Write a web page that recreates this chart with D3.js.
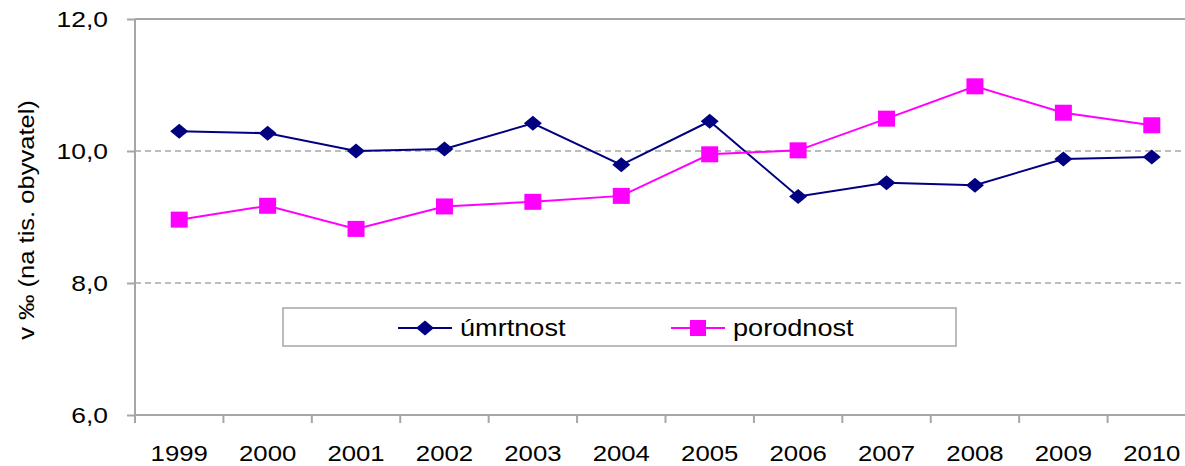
<!DOCTYPE html>
<html>
<head>
<meta charset="utf-8">
<script src="https://cdn.jsdelivr.net/npm/d3@7"></script>
<style>
  body { margin: 0; background: #fff; }
  text { font-family: "Liberation Sans", Arial, sans-serif; }
</style>
</head>
<body>
<div id="chart"></div>
<script>
// data
var years = ["1999","2000","2001","2002","2003","2004","2005","2006","2007","2008","2009","2010"];
var umrtnost = [10.3, 10.27, 10.0, 10.03, 10.42, 9.79, 10.45, 9.31, 9.52, 9.48, 9.88, 9.91];
var porodnost = [8.96, 9.17, 8.82, 9.16, 9.23, 9.32, 9.95, 10.01, 10.49, 10.98, 10.58, 10.39];
var yTicks = [6, 8, 10, 12];
var seriesNames = ["úmrtnost", "porodnost"];

var width = 1185, height = 466;
var margin = {top: 19, left: 135, bottom: 51, right: -11};
var w = width - margin.left - margin.right,
    h = height - margin.top - margin.bottom;

var svg = d3.select("#chart").append("svg")
    .attr("width", width)
    .attr("height", height)
  .append("g")
    .attr("transform", "translate(" + margin.left + "," + margin.top + ")");

var x = d3.scaleBand().domain(years).range([0, w]).padding(0);
var y = d3.scaleLinear().domain([6, 12]).range([h, 0]);
var cx = function(d) { return x(d) + x.bandwidth() / 2; };

var grey = "#a6a6a6";

// the original text is drawn wider than Arial, stretch it a bit
function stretch(sel, k) {
  sel.each(function() {
    var len = this.getComputedTextLength();
    d3.select(this).attr("textLength", len * k).attr("lengthAdjust", "spacingAndGlyphs");
  });
}

// gridlines
svg.selectAll(".grid")
  .data(yTicks.filter(function(d) { return d > 6; }))
  .enter().append("line")
    .attr("x1", 0).attr("x2", w)
    .attr("y1", function(d) { return y(d); })
    .attr("y2", function(d) { return y(d); })
    .attr("stroke", grey)
    .attr("stroke-width", function(d) { return d == 12 ? 2 : 1.5; })
    .attr("stroke-dasharray", function(d) { return d == 12 ? null : "6,4"; });

// Y axis
var yAxis = svg.append("g")
  .call(d3.axisLeft(y).tickValues(yTicks).tickSize(8).tickPadding(19)
    .tickFormat(function(d) { return d3.format(".1f")(d).replace(".", ","); }));
yAxis.select(".domain").attr("stroke", grey).attr("stroke-width", 2).attr("d", "M0," + h + "V0");
yAxis.selectAll(".tick line").attr("stroke", grey).attr("stroke-width", 2);
yAxis.selectAll(".tick text").attr("fill", "#000").style("font-size", "22px").call(stretch, 1.2);

// X axis
var xAxis = svg.append("g")
  .attr("transform", "translate(0," + h + ")")
  .call(d3.axisBottom(x).tickSize(0).tickPadding(30));
xAxis.select(".domain").attr("stroke", grey).attr("stroke-width", 2).attr("d", "M0,0H" + w);
xAxis.selectAll(".tick text").attr("fill", "#000").style("font-size", "22px").call(stretch, 1.17);
xAxis.selectAll(".sep")
  .data(years)
  .enter().append("line")
    .attr("x1", function(d) { return x(d); })
    .attr("x2", function(d) { return x(d); })
    .attr("y1", 0).attr("y2", 8)
    .attr("stroke", grey).attr("stroke-width", 2);

// Y label
svg.append("text")
  .attr("transform", "translate(" + (34 - margin.left) + "," + (220 - margin.top) + ") rotate(-90)")
  .attr("text-anchor", "middle")
  .style("font-size", "22px")
  .text("v ‰ (na tis. obyvatel)")
  .call(stretch, 1.16);

// lines
var line = d3.line()
  .x(function(d, i) { return cx(years[i]); })
  .y(function(d) { return y(d); });

var diamond = function(px, py) {
  return "M" + px + "," + (py - 7.5) + "L" + (px + 9) + "," + py + "L" + px + "," + (py + 7.5) + "L" + (px - 9) + "," + py + "Z";
};

svg.append("path").datum(umrtnost)
  .attr("fill", "none").attr("stroke", "#000080").attr("stroke-width", 2)
  .attr("d", line);
svg.append("path").datum(porodnost)
  .attr("fill", "none").attr("stroke", "#ff00ff").attr("stroke-width", 2)
  .attr("d", line);

svg.selectAll(".dia")
  .data(umrtnost)
  .enter().append("path")
    .attr("d", function(d, i) { return diamond(cx(years[i]), y(d)); })
    .attr("fill", "#000080");

svg.selectAll(".sq")
  .data(porodnost)
  .enter().append("rect")
    .attr("x", function(d, i) { return cx(years[i]) - 8.5; })
    .attr("y", function(d) { return y(d) - 8; })
    .attr("width", 17).attr("height", 16)
    .attr("fill", "#ff00ff");

// legend
var lg = svg.append("g").attr("transform", "translate(" + (283 - margin.left) + "," + (308 - margin.top) + ")");
lg.append("rect")
  .attr("width", 673).attr("height", 38)
  .attr("fill", "#fff").attr("stroke", grey).attr("stroke-width", 1.5);

var colors = ["#000080", "#ff00ff"];
var lx = [117, 390];
seriesNames.forEach(function(name, i) {
  var g = lg.append("g").attr("transform", "translate(" + lx[i] + ",20)");
  g.append("line").attr("x1", -2).attr("x2", 52).attr("stroke", colors[i]).attr("stroke-width", 2);
  if (i == 0) {
    g.append("path").attr("d", diamond(25, 0)).attr("fill", colors[i]);
  } else {
    g.append("rect").attr("x", 17).attr("y", -8).attr("width", 16).attr("height", 16).attr("fill", colors[i]);
  }
  g.append("text")
    .attr("x", 60).attr("y", 8)
    .style("font-size", "24px")
    .text(name)
    .call(stretch, 1.13);
});
</script>
</body>
</html>
